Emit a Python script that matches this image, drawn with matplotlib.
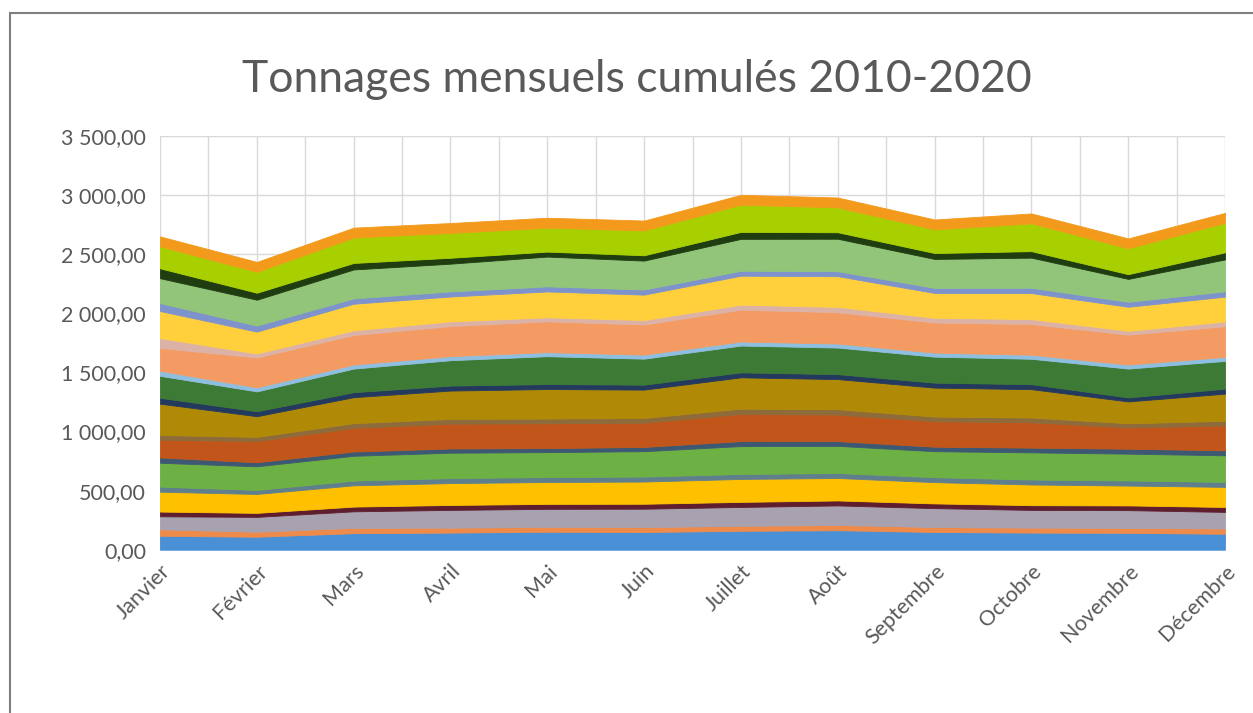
import matplotlib
matplotlib.use("Agg")
import matplotlib.pyplot as plt
from matplotlib.patches import Rectangle
from matplotlib.ticker import FuncFormatter, MultipleLocator

# mois en abscisse
mois = ["Janvier", "Février", "Mars", "Avril", "Mai", "Juin", "Juillet",
        "Août", "Septembre", "Octobre", "Novembre", "Décembre"]

# tonnages par couche (du bas vers le haut)
c01 = [118, 110, 140, 145, 152, 150, 160, 165, 150, 145, 143, 135]
c02 = [55, 42, 45, 42, 42, 42, 42, 45, 42, 42, 42, 45]
c03 = [110, 126, 140, 150, 152, 155, 160, 165, 160, 150, 150, 140]
c04 = [40, 34, 40, 42, 42, 42, 43, 42, 40, 40, 40, 42]
c05 = [168, 160, 180, 185, 185, 188, 194, 190, 180, 175, 168, 170]
c06 = [43, 34, 40, 42, 42, 42, 42, 42, 42, 42, 43, 42]
c07 = [202, 200, 210, 215, 211, 215, 236, 230, 220, 230, 227, 225]
c08 = [45, 34, 36, 36, 34, 36, 42, 40, 38, 40, 42, 42]
c09 = [150, 180, 200, 210, 210, 205, 230, 225, 215, 215, 180, 210]
c10 = [40, 35, 40, 40, 40, 40, 45, 45, 40, 40, 35, 40]
c11 = [265, 175, 220, 240, 250, 240, 265, 255, 245, 240, 185, 230]
c12 = [50, 42, 42, 42, 42, 42, 42, 42, 42, 42, 34, 42]
c13 = [186, 168, 200, 215, 236, 220, 227, 225, 220, 215, 244, 235]
c14 = [42, 34, 34, 34, 34, 34, 34, 34, 34, 34, 34, 34]
c15 = [194, 253, 250, 255, 261, 255, 270, 265, 255, 260, 253, 260]
c16 = [84, 34, 40, 40, 34, 38, 42, 45, 40, 42, 33, 40]
c17 = [228, 185, 225, 210, 219, 215, 245, 260, 210, 220, 203, 210]
c18 = [67, 51, 45, 43, 43, 43, 42, 42, 43, 45, 42, 45]
c19 = [211, 219, 245, 235, 252, 245, 270, 275, 245, 255, 194, 270]
c20 = [84, 59, 55, 50, 42, 45, 59, 55, 50, 55, 40, 60]
c21 = [186, 177, 215, 210, 203, 210, 230, 210, 200, 235, 219, 250]
c22 = [84, 84, 84, 84, 84, 84, 84, 84, 84, 84, 84, 84]

couleurs = ["#4A90D6", "#EE8A4A", "#A8A2B0", "#5E1E2E", "#FFC000", "#5F7F8C",
            "#6DB043", "#3D5872", "#C2561A", "#8E6B3A", "#B08A06", "#23395E",
            "#3D7A35", "#8FBFE0", "#F39B62", "#DDB2A6", "#FFD03C", "#7E92CC",
            "#92C47A", "#1F3D10", "#A8D000", "#F39A1C"]

couches = [c01, c02, c03, c04, c05, c06, c07, c08, c09, c10, c11,
           c12, c13, c14, c15, c16, c17, c18, c19, c20, c21, c22]

plt.rcParams["font.family"] = ["Lato", "DejaVu Sans"]

fig = plt.figure(figsize=(12.53, 7.13), dpi=100)
ax = fig.add_axes([0.1277, 0.229, 0.85, 0.58])

x = list(range(len(mois)))
ax.stackplot(x, *couches, colors=couleurs, linewidth=0.6,
             edgecolor="face", zorder=2)

ax.set_xlim(0, 11)
ax.set_ylim(0, 3500)
ax.yaxis.set_major_locator(MultipleLocator(500))
ax.xaxis.set_minor_locator(MultipleLocator(0.5))
ax.yaxis.set_major_formatter(FuncFormatter(
    lambda v, p: f"{v:,.2f}".replace(",", " ").replace(".", ",")))
ax.grid(True, which="both", color="#D9D9D9", linewidth=1, zorder=0)
ax.set_axisbelow(True)

ax.set_xticks(x)
ax.set_xticklabels(mois, rotation=45, ha="right", va="top",
                   rotation_mode="anchor", fontsize=15.5, color="#595959")
ax.tick_params(axis="y", length=0, labelsize=15.5, labelcolor="#595959", pad=10)
ax.tick_params(axis="x", which="both", length=0, pad=8)

for s in ax.spines.values():
    s.set_visible(False)

fig.text(0.508, 0.888, "Tonnages mensuels cumulés 2010-2020", ha="center",
         va="center", fontsize=32, color="#595959")

# bordure de la zone du graphique
fig.patches.append(Rectangle((0.008, -0.2), 1.2, 1.182, transform=fig.transFigure,
                             fill=False, edgecolor="#7F7F7F", linewidth=1.5))

fig.savefig("out.png", dpi=100)
